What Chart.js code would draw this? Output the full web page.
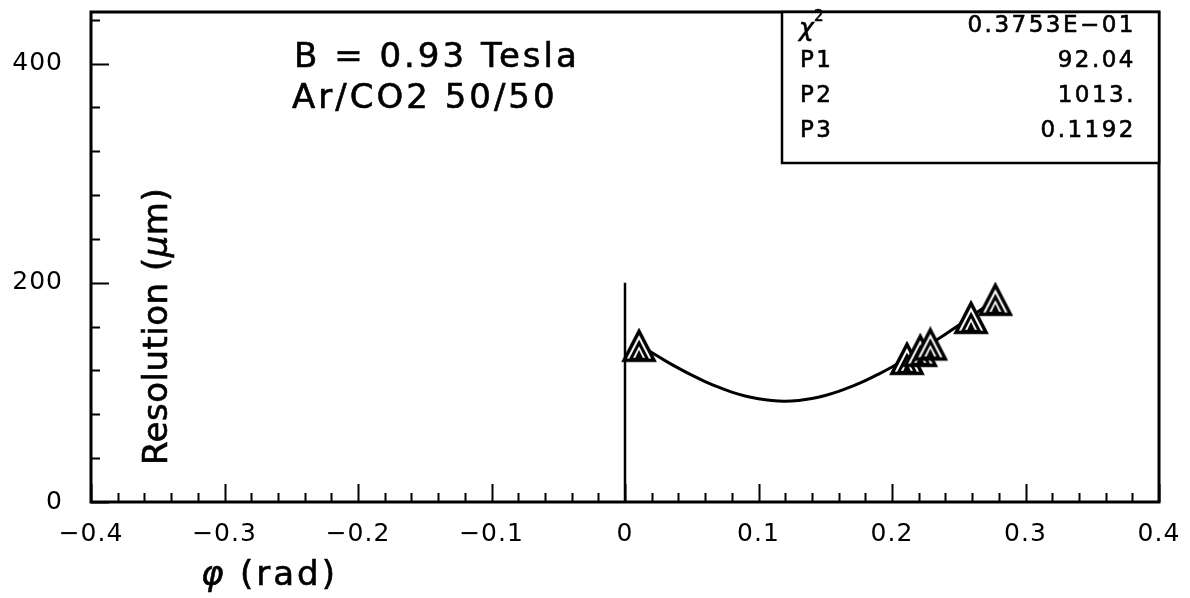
<!DOCTYPE html>
<html>
<head>
<meta charset="utf-8">
<script src="https://cdn.jsdelivr.net/npm/chart.js@4/dist/chart.umd.min.js"></script>
<style>
  html, body { margin: 0; padding: 0; background: #fff; }
  #wrap { width: 1190px; height: 598px; position: relative; }
</style>
</head>
<body>
<div id="wrap"><canvas id="res" width="1190" height="598"></canvas></div>
<script>
// ---- data ----
const xTicks = [-0.4, -0.3, -0.2, -0.1, 0, 0.1, 0.2, 0.3, 0.4];
const xTickLabels = ["\u22120.4", "\u22120.3", "\u22120.2", "\u22120.1", "0", "0.1", "0.2", "0.3", "0.4"];
const yTicks = [0, 200, 400];
const yTickLabels = ["0", "200", "400"];

// measured points (triangles)
const phiPoints = [0.0105, 0.2112, 0.2212, 0.2287, 0.2592, 0.2774];
const resPoints = [142.5, 130.6, 137.9, 143.7, 168.0, 184.5];

// fitted curve
const fitPhi = [0.01, 0.02, 0.03, 0.04, 0.05, 0.06, 0.07, 0.08, 0.09, 0.10,
                0.11, 0.12, 0.13, 0.14, 0.15, 0.16, 0.17, 0.18, 0.19, 0.20,
                0.21, 0.22, 0.23, 0.24, 0.25, 0.26, 0.27, 0.28];
const fitRes = [143.9, 136.3, 129.0, 122.1, 115.7, 109.9, 104.7, 100.2, 96.7, 94.1,
                92.5, 92.0, 92.7, 94.4, 97.2, 100.9, 105.5, 110.7, 116.7, 123.2,
                130.1, 137.5, 145.2, 153.1, 161.3, 169.7, 178.3, 187.1];

// vertical cut line at phi = 0
const cutPhi = [0, 0];
const cutRes = [0, 200];

const statLabels = ["\u03C7", "P1", "P2", "P3"];
const statValues = ["0.3753E\u221201", "92.04", "1013.", "0.1192"];

const FONT = "'DejaVu Sans', sans-serif";

// nested triangle marker
function makeMarker() {
  const c = document.createElement("canvas");
  c.width = 36; c.height = 36;
  const g = c.getContext("2d");
  g.lineJoin = "miter";
  g.strokeStyle = "#000";
  g.fillStyle = "#fff";
  g.lineWidth = 3.5;
  g.beginPath(); g.moveTo(18, 3.5); g.lineTo(33, 32.5); g.lineTo(3, 32.5); g.closePath();
  g.fill(); g.stroke();
  g.lineWidth = 3;
  g.beginPath(); g.moveTo(18, 15); g.lineTo(26.5, 31.5); g.lineTo(9.5, 31.5); g.closePath();
  g.stroke();
  g.fillStyle = "#000";
  g.beginPath(); g.moveTo(18, 22); g.lineTo(22.5, 31.5); g.lineTo(13.5, 31.5); g.closePath();
  g.fill();
  return c;
}

function pts(xs, ys) { return xs.map((x, i) => ({ x: x, y: ys[i] })); }

// text with a thin outline so it reads as heavy as the scanned plot
function heavyText(ctx, s, x, y) {
  ctx.fillText(s, x, y);
  ctx.strokeText(s, x, y);
}

// frame, inward ticks, texts and stats box
const decor = {
  id: "decor",
  beforeDraw(chart) {
    chart.ctx.letterSpacing = "1px";
  },
  afterDraw(chart) {
    const { ctx, chartArea: a, scales: { x, y } } = chart;
    ctx.save();
    ctx.strokeStyle = "#000";
    ctx.fillStyle = "#000";

    // ticks
    ctx.lineWidth = 2;
    ctx.beginPath();
    for (let v = 0; v <= 440; v += 40) {
      const py = Math.round(y.getPixelForValue(v)) + 0.5;
      const len = v % 200 === 0 ? 18 : 9;
      ctx.moveTo(a.left, py); ctx.lineTo(a.left + len, py);
    }
    for (let i = -20; i <= 20; i++) {
      const px = Math.round(x.getPixelForValue(i * 0.02)) + 0.5;
      const len = i % 5 === 0 ? 18 : 9;
      ctx.moveTo(px, a.bottom); ctx.lineTo(px, a.bottom - len);
    }
    ctx.stroke();

    // frame
    ctx.lineWidth = 3;
    ctx.strokeRect(a.left, a.top, a.right - a.left, a.bottom - a.top);

    // annotation text
    ctx.lineWidth = 0.6;
    ctx.font = "34px " + FONT;
    ctx.letterSpacing = "3px";
    ctx.textBaseline = "alphabetic";
    ctx.textAlign = "left";
    heavyText(ctx, "B = 0.93 Tesla", 294, 67);
    heavyText(ctx, "Ar/CO2 50/50", 292, 108);

    // stats box
    ctx.lineWidth = 2.5;
    ctx.fillStyle = "#fff";
    ctx.fillRect(782, a.top, a.right - 782, 163 - a.top);
    ctx.strokeRect(782, a.top, a.right - 782, 163 - a.top);
    ctx.fillStyle = "#000";
    ctx.lineWidth = 0.6;
    ctx.letterSpacing = "2.5px";
    const rows = [26, 61, 96, 131];
    rows.forEach((ry, i) => {
      ctx.font = "23px " + FONT;
      ctx.textBaseline = "middle";
      ctx.textAlign = "left";
      if (i === 0) {
        ctx.font = "italic 25px " + FONT;
        heavyText(ctx, statLabels[i], 799, ry + 3);
        ctx.font = "15px " + FONT;
        heavyText(ctx, "2", 814, ry - 9);
        ctx.font = "23px " + FONT;
      } else {
        heavyText(ctx, statLabels[i], 800, ry);
      }
      ctx.textAlign = "right";
      heavyText(ctx, statValues[i], 1136, ry);
    });

    // axis titles
    ctx.textBaseline = "alphabetic";
    ctx.textAlign = "left";
    ctx.letterSpacing = "3px";
    ctx.font = "italic 34px " + FONT;
    heavyText(ctx, "\u03C6", 201, 585);
    ctx.font = "34px " + FONT;
    heavyText(ctx, "(rad)", 240, 585);

    ctx.letterSpacing = "0.5px";
    ctx.translate(167, 465);
    ctx.rotate(-Math.PI / 2);
    ctx.font = "34px " + FONT;
    const t1 = "Resolution (";
    heavyText(ctx, t1, 0, 0);
    let w = ctx.measureText(t1).width;
    ctx.font = "italic 34px " + FONT;
    heavyText(ctx, "\u03BC", w, 0);
    w += ctx.measureText("\u03BC").width;
    ctx.font = "34px " + FONT;
    heavyText(ctx, "m)", w, 0);
    ctx.restore();
  }
};

const marker = makeMarker();

new Chart(document.getElementById("res"), {
  type: "scatter",
  data: {
    datasets: [
      {
        label: "data",
        data: pts(phiPoints, resPoints),
        pointStyle: marker,
        pointRadius: 18,
        showLine: false
      },
      {
        label: "fit",
        data: pts(fitPhi, fitRes),
        showLine: true,
        borderColor: "#000",
        borderWidth: 3,
        pointRadius: 0,
        tension: 0.4,
        fill: false
      },
      {
        label: "cut",
        data: pts(cutPhi, cutRes),
        showLine: true,
        borderColor: "#000",
        borderWidth: 2.5,
        pointRadius: 0,
        fill: false
      }
    ]
  },
  options: {
    responsive: false,
    animation: false,
    devicePixelRatio: 1,
    layout: { autoPadding: false, padding: { top: 12, right: 31, left: 0, bottom: 0 } },
    plugins: {
      legend: { display: false },
      tooltip: { enabled: false }
    },
    scales: {
      x: {
        type: "linear",
        min: -0.4,
        max: 0.4,
        afterBuildTicks: (s) => { s.ticks = xTicks.map(v => ({ value: v })); },
        afterFit: (s) => { s.height = 96; s.paddingLeft = 0; s.paddingRight = 0; },
        grid: { display: false, drawTicks: false },
        border: { display: false },
        ticks: {
          color: "#000",
          padding: 17,
          maxRotation: 0,
          autoSkip: false,
          font: { family: FONT, size: 25 },
          callback: (v, i) => xTickLabels[i]
        }
      },
      y: {
        type: "linear",
        min: 0,
        max: 447,
        afterBuildTicks: (s) => { s.ticks = yTicks.map(v => ({ value: v })); },
        afterFit: (s) => { s.width = 91; s.paddingTop = 0; s.paddingBottom = 0; },
        grid: { display: false, drawTicks: false },
        border: { display: false },
        ticks: {
          color: "#000",
          padding: 28,
          autoSkip: false,
          font: { family: FONT, size: 25 },
          callback: (v, i) => yTickLabels[i]
        }
      }
    }
  },
  plugins: [decor]
});
</script>
</body>
</html>
